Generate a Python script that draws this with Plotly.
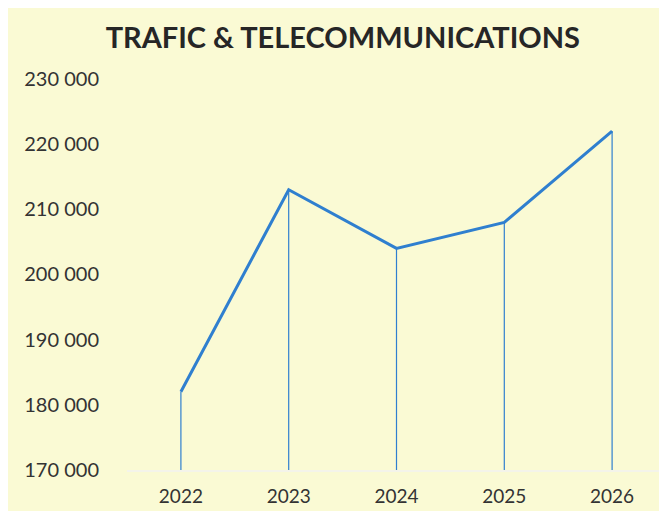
import plotly.graph_objects as go

years = ["2022", "2023", "2024", "2025", "2026"]
traffic = [182000, 213000, 204000, 208000, 222000]
y_ticks = [170000, 180000, 190000, 200000, 210000, 220000, 230000]
y_tick_labels = ["170 000", "180 000", "190 000", "200 000", "210 000", "220 000", "230 000"]
baseline = 170000

xpos = list(range(len(years)))
blue = "#2F7FCF"

fig = go.Figure()
fig.add_trace(go.Scatter(
    x=xpos, y=traffic, mode="lines",
    line=dict(color=blue, width=3),
    error_y=dict(type="data", symmetric=False,
                 array=[0] * len(traffic),
                 arrayminus=[v - baseline for v in traffic],
                 color=blue, thickness=1.2, width=0),
    hoverinfo="skip", showlegend=False,
))

fig.update_layout(
    width=667, height=511,
    margin=dict(l=119, r=9, t=69, b=49, autoexpand=False),
    paper_bgcolor="#FAFAD4",
    plot_bgcolor="rgba(0,0,0,0)",
    title=dict(text="<b>TRAFIC &amp; TELECOMMUNICATIONS</b>", x=0.502, xanchor="center",
               y=0.941, yanchor="middle",
               font=dict(family="Lato, Open Sans, sans-serif", size=29, color="#262626")),
    font=dict(family="Lato, Open Sans, sans-serif", size=19, color="#333333"),
    xaxis=dict(range=[-0.5, 4.5], tickvals=xpos, ticktext=years, automargin=False,
               showgrid=False, zeroline=False, showline=True,
               linecolor="#F4F4EA", linewidth=2, ticks="", ticklabelstandoff=8,
               tickfont=dict(size=19)),
    yaxis=dict(range=[baseline, 230300], tickvals=y_ticks, ticktext=y_tick_labels,
               automargin=False,
               showgrid=False, zeroline=False, showline=False, ticks="",
               ticklabelstandoff=27, tickfont=dict(size=20)),
)

fig.write_html("out.html")
